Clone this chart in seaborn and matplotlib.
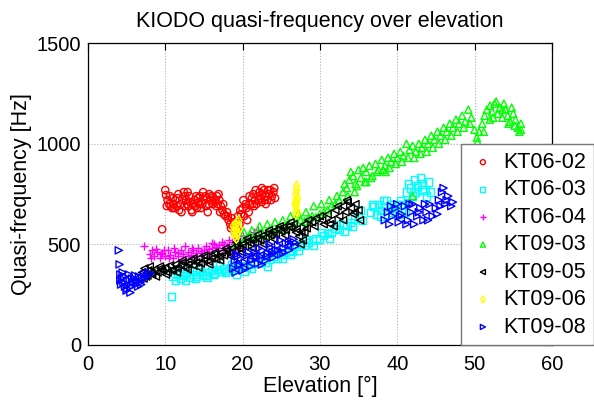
import matplotlib
matplotlib.use("Agg")
import matplotlib.pyplot as plt
import seaborn as sns

# KT06-02 (red circles)
kt0602_x = [9.6, 10.0, 10.1, 10.3, 10.5, 10.7, 10.9, 11.1, 11.3, 11.5, 11.8, 12.0, 12.2, 12.4, 12.6,
            12.8, 13.0, 13.2, 13.4, 13.6, 13.8, 14.0, 14.2, 14.4, 14.6, 14.8, 15.0, 15.2, 15.4, 15.6,
            15.8, 16.0, 16.2, 16.4, 16.6, 16.8, 17.0, 17.2, 17.4, 17.6, 17.8, 18.0, 18.2, 18.4, 18.6,
            18.8, 19.0, 19.2, 19.4, 19.6, 19.8, 20.0, 20.2, 20.4, 20.6, 20.8, 21.0, 21.2, 21.4, 21.6,
            21.8, 22.0, 22.2, 22.4, 22.6, 22.8, 23.0, 23.2, 23.4, 23.6, 23.8, 24.0, 24.2, 11.0, 12.5,
            14.5, 16.5, 21.5, 23.0, 22.5,
            10.2, 10.6, 11.2, 11.6, 12.1, 12.7, 13.1, 13.5, 13.9, 14.3, 14.9, 15.3, 15.7, 16.1, 16.7,
            17.1, 17.5, 18.1, 18.5, 18.9, 19.3, 19.7, 20.1, 20.5, 20.9, 21.3, 21.7, 22.1, 22.5, 22.9,
            23.3, 23.7, 24.1, 11.7, 12.9, 14.1, 15.5, 16.9]
kt0602_y = [575, 770, 745, 720, 700, 690, 680, 700, 720, 690, 670, 700, 725, 760, 740,
            700, 690, 710, 670, 700, 720, 740, 730, 700, 680, 700, 720, 740, 730, 700,
            720, 740, 735, 710, 690, 700, 720, 690, 670, 650, 640, 660, 620, 600, 630,
            590, 560, 610, 640, 600, 650, 680, 640, 700, 620, 660, 700, 730, 750, 720,
            700, 740, 760, 730, 750, 770, 740, 720, 750, 770, 740, 760, 730, 730, 690,
            740, 720, 690, 700, 710,
            690, 740, 680, 730, 660, 720, 740, 660, 690, 710, 760, 690, 750, 700, 740,
            660, 700, 640, 580, 610, 580, 670, 720, 680, 740, 700, 770, 720, 780, 720,
            770, 720, 780, 750, 760, 680, 660, 750]

# KT06-03 (cyan squares)
kt0603_x = [10.8, 11.0, 11.3, 11.6, 12.0, 12.4, 12.8, 13.2, 13.6, 14.0, 14.4, 14.8, 15.2, 15.6, 16.0,
            16.4, 16.8, 17.2, 17.6, 18.0, 18.4, 18.8, 19.5, 20.0, 20.5, 21.0, 21.5, 22.0, 22.5, 23.0,
            23.5, 24.0, 24.5, 25.0, 25.5, 26.0, 26.5, 27.0, 27.5, 28.0, 28.5, 29.0, 29.5, 30.0, 30.5,
            31.0, 31.5, 32.0, 32.5, 33.0, 33.5, 34.0, 34.5, 35.0, 35.5, 36.5, 37.0, 37.3, 37.6, 38.0,
            38.4, 38.8, 39.2, 39.6, 40.0, 40.4, 40.8, 41.2, 41.5, 41.8, 42.2, 42.6, 43.0, 43.3, 43.6,
            44.0, 42.0, 43.8, 40.2, 41.0,
            11.4, 11.9, 12.6, 13.1, 13.9, 14.6, 15.4, 16.2, 17.0, 17.8, 18.6, 19.2, 20.2, 21.2, 22.2,
            23.2, 24.2, 25.2, 26.2, 27.2, 28.2, 29.2, 30.2, 31.2, 32.2, 33.2, 34.2, 35.2, 37.8, 38.6,
            39.4, 40.6, 41.4, 42.4, 43.2, 44.3, 36.8, 38.2]
kt0603_y = [240, 340, 320, 350, 330, 345, 360, 335, 350, 340, 365, 350, 345, 360, 370,
            355, 375, 365, 380, 370, 385, 375, 380, 395, 385, 400, 410, 405, 420, 410,
            425, 440, 430, 450, 460, 470, 465, 490, 500, 495, 510, 520, 530, 525, 545,
            555, 560, 580, 575, 600, 595, 610, 630, 640, 620, 660, 690, 650, 700, 670,
            690, 650, 700, 680, 700, 720, 700, 760, 800, 780, 820, 790, 830, 800, 770,
            810, 740, 740, 650, 660,
            370, 355, 320, 375, 330, 380, 335, 350, 395, 360, 400, 350, 365, 380, 440,
            390, 455, 430, 450, 470, 525, 495, 560, 530, 600, 565, 590, 670, 640, 720,
            660, 660, 710, 760, 770, 760, 700, 720]

# KT06-04 (magenta plus)
kt0604_x = [7.2, 8.0, 8.3, 8.6, 9.0, 9.3, 9.6, 10.0, 10.3, 10.6, 11.0, 11.3, 11.6, 12.0, 12.3,
            12.6, 13.0, 13.3, 13.6, 14.0, 14.3, 14.6, 15.0, 15.3, 15.6, 16.0, 16.3, 16.6, 17.0, 17.3,
            17.6, 18.0, 18.3, 18.6, 19.0, 19.3, 19.6, 20.0, 20.5, 21.0, 21.5, 22.0, 19.0, 18.8, 19.5,
            8.2, 8.8, 9.4, 9.9, 10.5, 11.1, 11.7, 12.2, 12.9, 13.5, 14.1, 14.8, 15.5, 16.1, 16.8,
            17.5, 18.2, 18.9]
kt0604_y = [490, 450, 470, 440, 460, 430, 455, 440, 470, 445, 430, 460, 440, 470, 450,
            490, 460, 445, 470, 455, 480, 465, 470, 490, 475, 480, 500, 485, 495, 510,
            500, 490, 520, 510, 500, 530, 520, 540, 530, 550, 560, 570, 470, 450, 480,
            430, 475, 450, 470, 430, 480, 455, 420, 440, 480, 440, 455, 450, 505, 470,
            480, 470, 500]

# KT09-03 (green up triangles)
kt0903_x = [19.0, 19.5, 20.0, 20.5, 21.0, 21.5, 22.0, 22.5, 23.0, 23.5, 24.0, 24.5, 25.0, 25.5, 26.0,
            26.5, 27.0, 27.5, 28.0, 28.5, 29.0, 29.5, 30.0, 30.5, 31.0, 31.5, 32.0, 32.5, 33.0, 33.2,
            33.5, 33.8, 34.0, 34.3, 34.6, 35.0, 35.3, 35.6, 36.0, 36.4, 36.8, 37.2, 37.6, 38.0, 38.4,
            38.8, 39.2, 39.6, 40.0, 40.4, 40.8, 41.2, 41.6, 42.0, 42.4, 42.8, 43.2, 43.6, 44.0, 44.4,
            44.8, 45.2, 45.6, 46.0, 46.4, 46.8, 47.2, 47.6, 48.0, 48.4, 48.8, 49.2, 49.6, 50.0, 50.3,
            50.6, 51.0, 51.3, 51.6, 52.0, 52.3, 52.6, 53.0, 53.3, 53.6, 54.0, 54.3, 54.6, 55.0, 55.3,
            55.6, 56.0, 55.8, 42.0, 34.5, 36.0, 38.5,
            20.2, 21.2, 22.2, 23.2, 24.2, 25.2, 26.2, 27.2, 28.2, 29.2, 30.2, 31.2, 32.2, 33.6, 34.8,
            35.8, 36.6, 37.4, 38.2, 39.0, 39.8, 40.6, 41.4, 42.2, 43.0, 43.8, 44.6, 45.4, 46.2, 47.0,
            47.8, 48.6, 49.4, 50.4, 51.2, 52.0, 52.8, 53.6, 54.4, 55.2, 56.0, 53.8, 52.4, 54.8]
kt0903_y = [500, 520, 510, 530, 540, 530, 550, 560, 545, 570, 560, 580, 575, 590, 600,
            590, 610, 620, 615, 630, 640, 635, 650, 660, 670, 690, 700, 720, 760, 800,
            780, 820, 860, 840, 800, 870, 830, 880, 860, 890, 840, 900, 870, 920, 890,
            930, 910, 950, 930, 960, 940, 1000, 970, 990, 960, 1000, 980, 1020, 1000, 1040,
            1020, 1060, 1040, 1080, 1060, 1100, 1080, 1120, 1100, 1140, 1110, 1170, 1130, 1070, 1030,
            1060, 1100, 1140, 1170, 1190, 1160, 1200, 1150, 1180, 1130, 1170, 1140, 1110, 1150, 1120,
            1080, 1100, 1060, 740, 760, 810, 860,
            560, 570, 590, 600, 610, 620, 640, 650, 660, 690, 700, 720, 740, 740, 790,
            810, 830, 860, 870, 880, 900, 910, 930, 930, 950, 960, 980, 1000, 1020, 1040,
            1060, 1080, 1100, 1010, 1060, 1120, 1210, 1170, 1100, 1090, 1070, 1200, 1130, 1180]

# KT09-05 (black left triangles)
kt0905_x = [7.0, 7.3, 7.5, 7.8, 8.0, 8.3, 8.6, 9.0, 9.3, 9.6, 10.0, 10.3, 10.6, 11.0, 11.3,
            11.6, 12.0, 12.3, 12.6, 13.0, 13.3, 13.6, 14.0, 14.3, 14.6, 15.0, 15.3, 15.6, 16.0, 16.3,
            16.6, 17.0, 17.3, 17.6, 18.0, 18.3, 18.6, 19.0, 19.3, 19.6, 20.0, 20.3, 20.6, 21.0, 21.3,
            21.6, 22.0, 22.3, 22.6, 23.0, 23.3, 23.6, 24.0, 24.3, 24.6, 25.0, 25.3, 25.6, 26.0, 26.3,
            26.6, 27.0, 27.3, 27.5, 27.6, 28.0, 28.5, 29.0, 29.5, 30.0, 30.5, 31.0, 31.5, 32.0, 32.5,
            33.0, 33.3, 33.6, 34.0, 34.3, 34.6, 35.0, 35.2, 33.0, 31.8,
            7.2, 7.7, 8.2, 8.8, 9.4, 10.1, 10.8, 11.5, 12.2, 12.9, 13.6, 14.3, 15.0, 15.7, 16.4,
            17.1, 17.8, 18.5, 19.2, 19.9, 20.6, 21.3, 22.0, 22.7, 23.4, 24.1, 24.8, 25.5, 26.2, 26.9,
            28.3, 29.3, 30.3, 31.3, 32.3, 33.5, 34.5, 27.8, 28.0]
kt0905_y = [360, 380, 340, 370, 390, 350, 375, 360, 390, 370, 385, 360, 395, 375, 400,
            380, 395, 410, 385, 400, 420, 395, 410, 430, 405, 420, 440, 415, 430, 450,
            425, 440, 460, 445, 470, 455, 480, 470, 495, 480, 500, 490, 515, 505, 525,
            510, 530, 520, 545, 535, 555, 545, 565, 550, 575, 565, 585, 570, 590, 580,
            600, 575, 540, 500, 560, 600, 620, 610, 630, 640, 600, 650, 620, 670, 640,
            690, 660, 710, 680, 650, 700, 670, 620, 620, 590,
            330, 345, 360, 340, 380, 350, 370, 360, 420, 375, 430, 385, 445, 400, 460,
            420, 480, 440, 510, 460, 530, 480, 550, 500, 570, 525, 590, 545, 610, 560,
            580, 590, 620, 600, 690, 720, 660, 520, 560]

# KT09-06 (yellow diamonds)
kt0906_x = [18.9, 19.0, 19.1, 19.2, 19.3, 19.4, 19.5, 19.2, 19.0, 19.6, 19.3, 18.8,
            26.9, 27.0, 26.9, 27.0, 27.1, 26.9, 27.0, 27.0, 26.8, 27.1, 26.9]
kt0906_y = [560, 580, 600, 570, 550, 590, 620, 530, 540, 580, 610, 590,
            650, 670, 690, 710, 730, 750, 770, 790, 700, 660, 720]

# KT09-08 (blue right triangles)
kt0908_x = [4.0, 4.1, 4.2, 4.4, 4.6, 4.8, 5.0, 5.2, 5.4, 5.6, 5.8, 6.0, 6.2, 6.4, 6.6,
            6.8, 7.0, 7.3, 7.6, 4.5, 5.3, 6.1, 4.3, 5.5, 6.5, 7.8, 8.1,
            18.8, 19.0, 19.2, 19.5, 19.8, 20.0, 20.3, 20.6, 21.0, 21.3, 21.6, 22.0, 22.3, 22.6, 23.0,
            23.3, 23.6, 24.0, 24.3, 24.6, 25.0, 25.3, 25.6, 26.0, 26.3, 26.6, 26.8, 21.8, 23.8,
            38.4, 38.8, 39.0, 39.4, 39.8, 40.2, 40.6, 41.0, 41.4, 41.8, 42.2, 42.6, 43.0, 43.4, 43.8,
            44.2, 44.6, 45.0, 45.4, 45.8, 46.2, 46.6, 47.0, 46.0, 45.2, 40.0, 42.0,
            4.2, 4.7, 5.1, 5.7, 6.3, 6.9, 7.4,
            19.1, 19.7, 20.4, 21.1, 21.8, 22.5, 23.2, 23.9, 24.6, 25.3, 26.0, 26.7,
            19.4, 20.8, 22.1, 23.5, 24.9,
            39.2, 40.4, 41.6, 42.8, 44.0, 45.6, 46.4, 47.2, 43.6, 41.2]
kt0908_y = [470, 400, 350, 330, 310, 290, 270, 300, 320, 290, 310, 330, 300, 320, 340,
            310, 330, 350, 340, 360, 350, 345, 300, 260, 290, 360, 355,
            380, 420, 450, 395, 430, 370, 410, 445, 390, 425, 460, 405, 440, 470, 420,
            455, 485, 435, 470, 495, 450, 480, 505, 470, 500, 525, 490, 430, 450,
            620, 660, 600, 640, 680, 610, 650, 690, 620, 660, 600, 640, 680, 620, 660,
            700, 640, 680, 720, 760, 700, 740, 690, 780, 650, 700, 700,
            320, 340, 280, 330, 310, 300, 330,
            360, 400, 380, 420, 440, 400, 440, 460, 470, 460, 510, 510,
            440, 460, 480, 500, 520,
            690, 640, 700, 660, 620, 690, 720, 710, 700, 600]

series_names = ["KT06-02", "KT06-03", "KT06-04", "KT09-03", "KT09-05", "KT09-06", "KT09-08"]
series_x = [kt0602_x, kt0603_x, kt0604_x, kt0903_x, kt0905_x, kt0906_x, kt0908_x]
series_y = [kt0602_y, kt0603_y, kt0604_y, kt0903_y, kt0905_y, kt0906_y, kt0908_y]
series_colors = ["#ff0000", "#00ffff", "#ff00ff", "#00ff00", "#000000", "#ffff00", "#0000ff"]
series_markers = ["o", "s", "+", "^", "<", "d", ">"]

sns.set_style("white")
plt.rcParams["font.family"] = ["Liberation Sans", "DejaVu Sans"]
plt.rcParams["text.color"] = "black"
plt.rcParams["axes.labelcolor"] = "black"
plt.rcParams["xtick.color"] = "black"
plt.rcParams["ytick.color"] = "black"

fig = plt.figure(figsize=(5.94, 4.01), dpi=100)
ax = fig.add_axes([0.148, 0.14, 0.781, 0.752])

for name, xs, ys, col, mk in zip(series_names, series_x, series_y, series_colors, series_markers):
    if mk == "+":
        sns.scatterplot(x=xs, y=ys, marker=mk, color=col, s=34, linewidth=1.0,
                        label=name, ax=ax)
    else:
        sns.scatterplot(x=xs, y=ys, marker=mk, facecolor="none", edgecolor=col, s=27,
                        linewidth=1.0, label=name, ax=ax)

ax.set_xlim(0, 60)
ax.set_ylim(0, 1500)
ax.set_xticks([0, 10, 20, 30, 40, 50, 60])
ax.set_yticks([0, 500, 1000, 1500])
ax.grid(True, linestyle=":", color="#b0b0b0", linewidth=0.8)
ax.tick_params(direction="in", length=5, top=True, right=True, labelsize=14.5, width=0.8,
               colors="black")
ax.tick_params(axis="x", pad=7)
ax.tick_params(axis="y", pad=5)
for sp in ax.spines.values():
    sp.set_color("black")
    sp.set_linewidth(0.9)

ax.set_title("KIODO quasi-frequency over elevation", fontsize=15.5, pad=12, color="black")
ax.set_xlabel("Elevation [°]", fontsize=15.5, labelpad=2)
ax.set_ylabel("Quasi-frequency [Hz]", fontsize=15.5, labelpad=3)

leg = ax.legend(loc="upper left", bbox_to_anchor=(0.805, 0.665), fontsize=15.5,
                frameon=True, fancybox=False, framealpha=1, edgecolor="#777777",
                handletextpad=0.3, labelspacing=0.3, borderpad=0.35, markerscale=0.7,
                handlelength=1.3, borderaxespad=0)
leg.get_frame().set_linewidth(1.0)
for txt in leg.get_texts():
    txt.set_color("black")

fig.savefig("out.png", dpi=100)
